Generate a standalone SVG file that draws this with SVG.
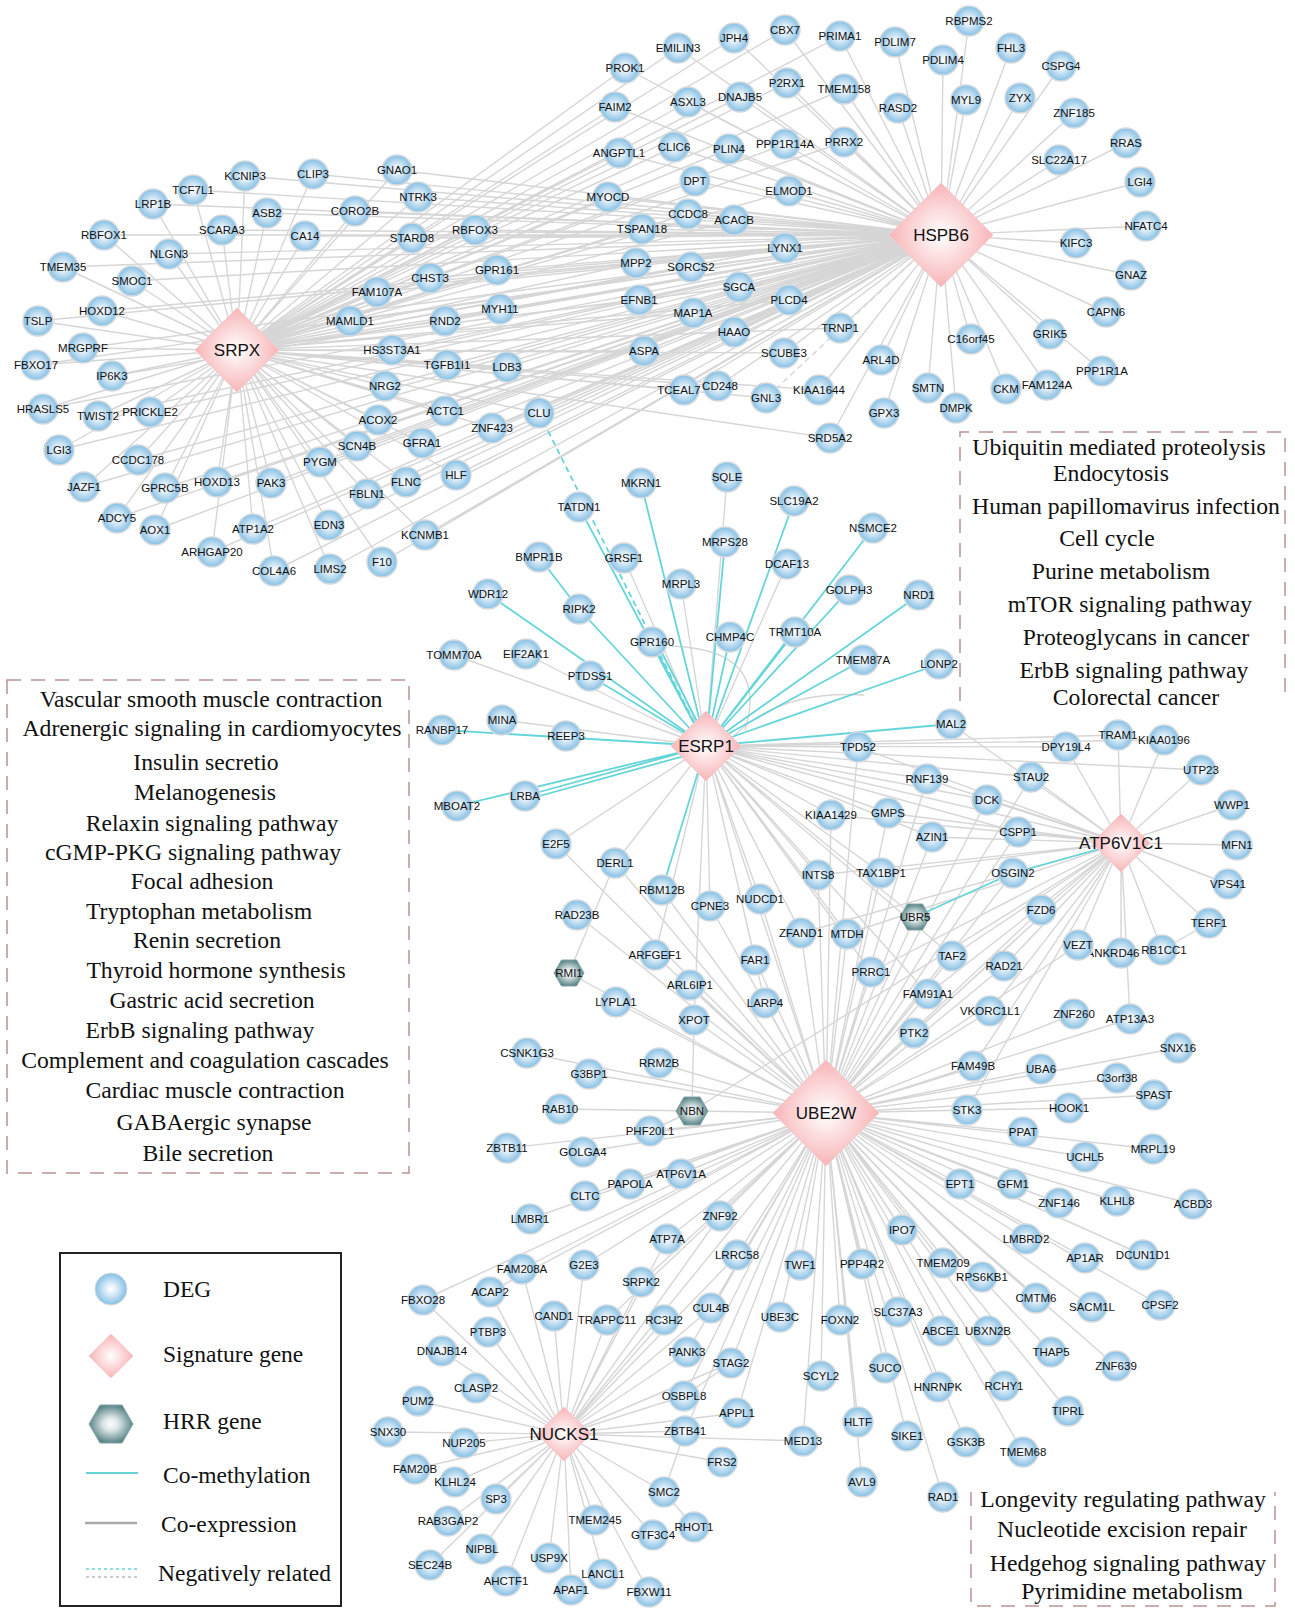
<svg xmlns="http://www.w3.org/2000/svg" width="1295" height="1609" viewBox="0 0 1295 1609">
<style>
.e{stroke:#d6d6d6;stroke-width:1.4;fill:none}
.m{stroke:#66d5da;stroke-width:1.8;fill:none}
.neg{stroke-dasharray:6 4}
.d circle{fill:url(#gd);stroke:#d3dadf;stroke-width:1.5}
.h path{fill:url(#gh);stroke:#f4c9cb;stroke-width:1}
.x path{fill:url(#gx);stroke:#86a2a4;stroke-width:1}
.d text,.x text{font:11.5px "Liberation Sans",Arial,sans-serif;text-anchor:middle;fill:#111}
.h text{font:17px "Liberation Sans",Arial,sans-serif;text-anchor:middle;fill:#111}
.pw{font:23.7px "Liberation Serif","Times New Roman",serif;text-anchor:middle;fill:#111}
.lg{font:23.5px "Liberation Serif","Times New Roman",serif;fill:#111}
.box{fill:none;stroke:#b99393;stroke-width:1.5;stroke-dasharray:14 10}
</style>
<defs>
<radialGradient id="gd"><stop offset="0" stop-color="#ffffff"/><stop offset="0.3" stop-color="#e2eff9"/><stop offset="1" stop-color="#84bfe4"/></radialGradient>
<radialGradient id="gh"><stop offset="0" stop-color="#ffffff"/><stop offset="1" stop-color="#f8b4b7"/></radialGradient>
<radialGradient id="gx"><stop offset="0" stop-color="#ffffff"/><stop offset="0.35" stop-color="#dbe5e5"/><stop offset="1" stop-color="#5a8588"/></radialGradient>
</defs>
<rect width="1295" height="1609" fill="#ffffff"/>
<g id="edges">
<path id="e-SRPX" class="e" d="M237 350L245 176M237 350L313 174M237 350L397 170M237 350L193 190M237 350L153 204M237 350L267 213M237 350L355 211M237 350L418 197M237 350L222 230M237 350L305 236M237 350L412 238M237 350L104 235M237 350L169 254M237 350L63 267M237 350L132 281M237 350L377 292M237 350L430 278M237 350L102 311M237 350L38 321M237 350L350 321M237 350L83 348M237 350L36 365M237 350L112 376M237 350L392 350M237 350L385 386M237 350L43 409M237 350L98 416M237 350L150 412M237 350L378 420M237 350L59 450M237 350L357 446M237 350L422 443M237 350L138 460M237 350L320 462M237 350L84 487M237 350L165 488M237 350L217 482M237 350L271 483M237 350L406 482M237 350L367 494M237 350L117 518M237 350L155 530M237 350L253 529M237 350L329 525M237 350L425 535M237 350L212 552M237 350L274 571M237 350L330 569M237 350L382 562M237 350L445 411M237 350L492 428M237 350L539 413M237 350L456 475M237 350L475 230M237 350L497 270M237 350L500 309M237 350L445 321M237 350L447 365M237 350L507 367M237 350L678 48M237 350L734 38M237 350L785 30M237 350L840 36M237 350L625 68M237 350L787 83M237 350L844 89M237 350L740 97M237 350L615 107M237 350L688 102M237 350L619 153M237 350L674 147M237 350L729 149M237 350L785 144M237 350L844 142M237 350L695 181M237 350L789 191M237 350L608 197M237 350L688 214M237 350L734 220M237 350L642 229M237 350L785 248M237 350L636 263M237 350L691 267M237 350L739 287M237 350L789 300M237 350L639 300M237 350L693 313M237 350L734 332M237 350L840 328M237 350L644 351M237 350L784 353M237 350L684 390M237 350L718 386M237 350L766 398M237 350L819 390M237 350L830 438"/>
<path id="e-HSPB6" class="e" d="M941 235L245 176M941 235L313 174M941 235L397 170M941 235L193 190M941 235L153 204M941 235L267 213M941 235L355 211M941 235L418 197M941 235L222 230M941 235L305 236M941 235L412 238M941 235L104 235M941 235L169 254M941 235L63 267M941 235L132 281M941 235L377 292M941 235L430 278M941 235L102 311M941 235L38 321M941 235L350 321M941 235L83 348M941 235L36 365M941 235L112 376M941 235L392 350M941 235L385 386M941 235L43 409M941 235L98 416M941 235L150 412M941 235L378 420M941 235L59 450M941 235L357 446M941 235L422 443M941 235L138 460M941 235L320 462M941 235L84 487M941 235L165 488M941 235L217 482M941 235L271 483M941 235L406 482M941 235L367 494M941 235L117 518M941 235L155 530M941 235L253 529M941 235L329 525M941 235L425 535M941 235L212 552M941 235L274 571M941 235L330 569M941 235L382 562M941 235L445 411M941 235L492 428M941 235L539 413M941 235L456 475M941 235L475 230M941 235L497 270M941 235L500 309M941 235L445 321M941 235L447 365M941 235L507 367M941 235L678 48M941 235L734 38M941 235L785 30M941 235L840 36M941 235L625 68M941 235L787 83M941 235L844 89M941 235L740 97M941 235L615 107M941 235L688 102M941 235L619 153M941 235L674 147M941 235L729 149M941 235L785 144M941 235L844 142M941 235L695 181M941 235L789 191M941 235L608 197M941 235L688 214M941 235L734 220M941 235L642 229M941 235L785 248M941 235L636 263M941 235L691 267M941 235L739 287M941 235L789 300M941 235L639 300M941 235L693 313M941 235L734 332M941 235L840 328M941 235L644 351M941 235L784 353M941 235L684 390M941 235L718 386M941 235L819 390M941 235L830 438M941 235L969 21M941 235L895 42M941 235L943 60M941 235L1011 48M941 235L1061 66M941 235L966 100M941 235L1020 98M941 235L898 108M941 235L1074 113M941 235L1126 143M941 235L1059 160M941 235L1140 182M941 235L1146 226M941 235L1076 243M941 235L1131 275M941 235L1106 312M941 235L1050 334M941 235L971 339M941 235L1102 371M941 235L881 360M941 235L928 388M941 235L1006 389M941 235L1047 385M941 235L956 408M941 235L884 413"/>
<path id="e-ESRP1" class="e" d="M706 746L727 477M706 746L624 558M706 746L681 584M706 746L787 564M706 746L454 655M706 746L526 654M706 746L502 720M706 746L556 844M706 746L615 863M706 746L831 815M706 746L888 813M706 746L858 747M706 746L927 779M706 746L987 800M706 746L1031 777M706 746L932 837M706 746L1018 832M706 746L881 873M706 746L818 875M706 746L710 906M706 746L760 899M706 746L801 933M706 746L847 934M706 746L755 960M706 746L765 1003M706 746L655 955M706 746L1121 843M706 746L826 1113M706 746L952 956M706 746L928 994M706 746L871 972M706 746L915 917M706 746L1066 747M706 746L1118 735M706 746L1164 740M706 746L1201 770M706 746L694 1020M672 646Q770 650 745 730M735 735Q780 690 864 695"/>
<path id="e-ATP6V1C1" class="e" d="M1121 843L1118 735M1121 843L1164 740M1121 843L1201 770M1121 843L1232 805M1121 843L1237 845M1121 843L1228 884M1121 843L1209 923M1121 843L1162 950M1121 843L1121 953M1121 843L1130 1019M1121 843L1078 945M1121 843L1041 910M1121 843L1018 832M1121 843L987 800M1121 843L1031 777M1121 843L1066 747M1121 843L951 724M1121 843L858 747M1121 843L927 779M1121 843L932 837M1121 843L888 813M1121 843L881 873M1121 843L952 956M1121 843L1004 966M1121 843L928 994M1121 843L914 1033M1121 843L990 1011M1121 843L973 1066M1121 843L967 1110M1121 843L871 972M1121 843L826 1113M1121 843L831 815M1121 843L818 875M1121 843L847 934M1121 843L801 933M1121 843L692 1111"/>
<path id="e-UBE2W" class="e" d="M826 1113L831 815M826 1113L888 813M826 1113L932 837M826 1113L1018 832M826 1113L927 779M826 1113L987 800M826 1113L1031 777M826 1113L881 873M826 1113L915 917M826 1113L952 956M826 1113L1004 966M826 1113L871 972M826 1113L928 994M826 1113L990 1011M826 1113L1074 1014M826 1113L1130 1019M826 1113L914 1033M826 1113L1178 1048M826 1113L973 1066M826 1113L1041 1069M826 1113L1117 1078M826 1113L1154 1095M826 1113L967 1110M826 1113L1069 1108M826 1113L1023 1132M826 1113L1085 1157M826 1113L1153 1149M826 1113L960 1184M826 1113L1013 1184M826 1113L1059 1203M826 1113L1117 1201M826 1113L1193 1204M826 1113L556 844M826 1113L615 863M826 1113L818 875M826 1113L662 890M826 1113L710 906M826 1113L760 899M826 1113L577 915M826 1113L801 933M826 1113L847 934M826 1113L655 955M826 1113L755 960M826 1113L569 973M826 1113L690 985M826 1113L616 1002M826 1113L765 1003M826 1113L694 1020M826 1113L527 1053M826 1113L659 1063M826 1113L589 1074M826 1113L560 1109M826 1113L692 1111M826 1113L650 1131M826 1113L507 1148M826 1113L583 1152M826 1113L681 1174M826 1113L630 1184M826 1113L585 1196M826 1113L530 1219M826 1113L720 1216M826 1113L667 1239M826 1113L522 1269M826 1113L584 1265M826 1113L737 1255M826 1113L800 1265M826 1113L862 1264M826 1113L902 1230M826 1113L943 1263M826 1113L1026 1239M826 1113L1085 1258M826 1113L1143 1255M826 1113L982 1277M826 1113L1036 1298M826 1113L1092 1307M826 1113L1160 1305M826 1113L898 1312M826 1113L941 1331M826 1113L988 1331M826 1113L1051 1352M826 1113L1116 1366M826 1113L885 1368M826 1113L938 1387M826 1113L1004 1386M826 1113L1068 1411M826 1113L907 1436M826 1113L966 1442M826 1113L1023 1452M826 1113L943 1497M826 1113L858 1422M826 1113L862 1482M826 1113L641 1282M826 1113L490 1292M826 1113L423 1300M826 1113L607 1320M826 1113L711 1308M826 1113L780 1317M826 1113L840 1320M826 1113L731 1363M826 1113L821 1376M826 1113L684 1396M826 1113L737 1413M826 1113L803 1441M826 1113L685 1431M826 1113L687 1352M826 1113L1041 910M826 1113L1078 945M826 1113L1013 873M826 1113L858 747"/>
<path id="e-NUCKS1" class="e" d="M564 1434L423 1300M564 1434L442 1351M564 1434L418 1401M564 1434L388 1432M564 1434L415 1469M564 1434L455 1482M564 1434L448 1521M564 1434L430 1565M564 1434L482 1549M564 1434L506 1581M564 1434L549 1558M564 1434L571 1590M564 1434L603 1574M564 1434L649 1592M564 1434L595 1520M564 1434L653 1535M564 1434L664 1492M564 1434L722 1462M564 1434L803 1441M564 1434L685 1431M564 1434L737 1413M564 1434L684 1396M564 1434L731 1363M564 1434L687 1352M564 1434L711 1308M564 1434L664 1320M564 1434L607 1320M564 1434L641 1282M564 1434L667 1239M564 1434L554 1316M564 1434L584 1265M564 1434L522 1269M564 1434L490 1292M564 1434L488 1332M564 1434L476 1388M564 1434L464 1443M564 1434L496 1499M564 1434L737 1255M564 1434L720 1216M564 1434L826 1113"/>
<path id="e-other" class="e" d="M694 1527L664 1492M664 1492L685 1431M694 1020L692 1111M569 973L615 863M1209 923L1162 950M731 1363L684 1396M692 1111L650 1131"/>
<path id="m-ESRP1" class="m" d="M706 746L641 483M706 746L579 507M706 746L579 609M706 746L488 594M706 746L652 642M709 745L656 641M706 746L725 542M706 746L794 501M706 746L730 637M706 746L873 528M706 746L849 590M706 746L795 632M706 746L863 660M706 746L919 595M706 746L939 664M706 746L951 724M706 746L442 730M706 746L525 796M706 750L525 800M706 746L457 806M706 746L662 890M706 746L590 676M539 557L579 609"/>
<path id="m-ATP6V1C1" class="m" d="M915 917L1013 873M1013 873L1121 843"/>
<path id="n-CLU-ESRP1" class="m neg" d="M539 413L706 746"/>
<path id="n-HSPB6-GNL3" class="e neg" d="M941 235L766 398"/>
</g>
<g id="nodes">
<g id="KCNIP3" class="d" transform="translate(245,176)"><circle r="15"/><text y="4">KCNIP3</text></g>
<g id="CLIP3" class="d" transform="translate(313,174)"><circle r="15"/><text y="4">CLIP3</text></g>
<g id="GNAO1" class="d" transform="translate(397,170)"><circle r="15"/><text y="4">GNAO1</text></g>
<g id="TCF7L1" class="d" transform="translate(193,190)"><circle r="15"/><text y="4">TCF7L1</text></g>
<g id="LRP1B" class="d" transform="translate(153,204)"><circle r="15"/><text y="4">LRP1B</text></g>
<g id="ASB2" class="d" transform="translate(267,213)"><circle r="15"/><text y="4">ASB2</text></g>
<g id="CORO2B" class="d" transform="translate(355,211)"><circle r="15"/><text y="4">CORO2B</text></g>
<g id="NTRK3" class="d" transform="translate(418,197)"><circle r="15"/><text y="4">NTRK3</text></g>
<g id="SCARA3" class="d" transform="translate(222,230)"><circle r="15"/><text y="4">SCARA3</text></g>
<g id="CA14" class="d" transform="translate(305,236)"><circle r="15"/><text y="4">CA14</text></g>
<g id="STARD8" class="d" transform="translate(412,238)"><circle r="15"/><text y="4">STARD8</text></g>
<g id="RBFOX1" class="d" transform="translate(104,235)"><circle r="15"/><text y="4">RBFOX1</text></g>
<g id="NLGN3" class="d" transform="translate(169,254)"><circle r="15"/><text y="4">NLGN3</text></g>
<g id="TMEM35" class="d" transform="translate(63,267)"><circle r="15"/><text y="4">TMEM35</text></g>
<g id="SMOC1" class="d" transform="translate(132,281)"><circle r="15"/><text y="4">SMOC1</text></g>
<g id="FAM107A" class="d" transform="translate(377,292)"><circle r="15"/><text y="4">FAM107A</text></g>
<g id="CHST3" class="d" transform="translate(430,278)"><circle r="15"/><text y="4">CHST3</text></g>
<g id="HOXD12" class="d" transform="translate(102,311)"><circle r="15"/><text y="4">HOXD12</text></g>
<g id="TSLP" class="d" transform="translate(38,321)"><circle r="15"/><text y="4">TSLP</text></g>
<g id="MAMLD1" class="d" transform="translate(350,321)"><circle r="15"/><text y="4">MAMLD1</text></g>
<g id="MRGPRF" class="d" transform="translate(83,348)"><circle r="15"/><text y="4">MRGPRF</text></g>
<g id="FBXO17" class="d" transform="translate(36,365)"><circle r="15"/><text y="4">FBXO17</text></g>
<g id="IP6K3" class="d" transform="translate(112,376)"><circle r="15"/><text y="4">IP6K3</text></g>
<g id="HS3ST3A1" class="d" transform="translate(392,350)"><circle r="15"/><text y="4">HS3ST3A1</text></g>
<g id="NRG2" class="d" transform="translate(385,386)"><circle r="15"/><text y="4">NRG2</text></g>
<g id="HRASLS5" class="d" transform="translate(43,409)"><circle r="15"/><text y="4">HRASLS5</text></g>
<g id="TWIST2" class="d" transform="translate(98,416)"><circle r="15"/><text y="4">TWIST2</text></g>
<g id="PRICKLE2" class="d" transform="translate(150,412)"><circle r="15"/><text y="4">PRICKLE2</text></g>
<g id="ACOX2" class="d" transform="translate(378,420)"><circle r="15"/><text y="4">ACOX2</text></g>
<g id="LGI3" class="d" transform="translate(59,450)"><circle r="15"/><text y="4">LGI3</text></g>
<g id="SCN4B" class="d" transform="translate(357,446)"><circle r="15"/><text y="4">SCN4B</text></g>
<g id="GFRA1" class="d" transform="translate(422,443)"><circle r="15"/><text y="4">GFRA1</text></g>
<g id="CCDC178" class="d" transform="translate(138,460)"><circle r="15"/><text y="4">CCDC178</text></g>
<g id="PYGM" class="d" transform="translate(320,462)"><circle r="15"/><text y="4">PYGM</text></g>
<g id="JAZF1" class="d" transform="translate(84,487)"><circle r="15"/><text y="4">JAZF1</text></g>
<g id="GPRC5B" class="d" transform="translate(165,488)"><circle r="15"/><text y="4">GPRC5B</text></g>
<g id="HOXD13" class="d" transform="translate(217,482)"><circle r="15"/><text y="4">HOXD13</text></g>
<g id="PAK3" class="d" transform="translate(271,483)"><circle r="15"/><text y="4">PAK3</text></g>
<g id="FLNC" class="d" transform="translate(406,482)"><circle r="15"/><text y="4">FLNC</text></g>
<g id="FBLN1" class="d" transform="translate(367,494)"><circle r="15"/><text y="4">FBLN1</text></g>
<g id="ADCY5" class="d" transform="translate(117,518)"><circle r="15"/><text y="4">ADCY5</text></g>
<g id="AOX1" class="d" transform="translate(155,530)"><circle r="15"/><text y="4">AOX1</text></g>
<g id="ATP1A2" class="d" transform="translate(253,529)"><circle r="15"/><text y="4">ATP1A2</text></g>
<g id="EDN3" class="d" transform="translate(329,525)"><circle r="15"/><text y="4">EDN3</text></g>
<g id="KCNMB1" class="d" transform="translate(425,535)"><circle r="15"/><text y="4">KCNMB1</text></g>
<g id="ARHGAP20" class="d" transform="translate(212,552)"><circle r="15"/><text y="4">ARHGAP20</text></g>
<g id="COL4A6" class="d" transform="translate(274,571)"><circle r="15"/><text y="4">COL4A6</text></g>
<g id="LIMS2" class="d" transform="translate(330,569)"><circle r="15"/><text y="4">LIMS2</text></g>
<g id="F10" class="d" transform="translate(382,562)"><circle r="15"/><text y="4">F10</text></g>
<g id="ACTC1" class="d" transform="translate(445,411)"><circle r="15"/><text y="4">ACTC1</text></g>
<g id="ZNF423" class="d" transform="translate(492,428)"><circle r="15"/><text y="4">ZNF423</text></g>
<g id="CLU" class="d" transform="translate(539,413)"><circle r="15"/><text y="4">CLU</text></g>
<g id="HLF" class="d" transform="translate(456,475)"><circle r="15"/><text y="4">HLF</text></g>
<g id="RBFOX3" class="d" transform="translate(475,230)"><circle r="15"/><text y="4">RBFOX3</text></g>
<g id="GPR161" class="d" transform="translate(497,270)"><circle r="15"/><text y="4">GPR161</text></g>
<g id="MYH11" class="d" transform="translate(500,309)"><circle r="15"/><text y="4">MYH11</text></g>
<g id="RND2" class="d" transform="translate(445,321)"><circle r="15"/><text y="4">RND2</text></g>
<g id="TGFB1I1" class="d" transform="translate(447,365)"><circle r="15"/><text y="4">TGFB1I1</text></g>
<g id="LDB3" class="d" transform="translate(507,367)"><circle r="15"/><text y="4">LDB3</text></g>
<g id="EMILIN3" class="d" transform="translate(678,48)"><circle r="15"/><text y="4">EMILIN3</text></g>
<g id="JPH4" class="d" transform="translate(734,38)"><circle r="15"/><text y="4">JPH4</text></g>
<g id="CBX7" class="d" transform="translate(785,30)"><circle r="15"/><text y="4">CBX7</text></g>
<g id="PRIMA1" class="d" transform="translate(840,36)"><circle r="15"/><text y="4">PRIMA1</text></g>
<g id="PROK1" class="d" transform="translate(625,68)"><circle r="15"/><text y="4">PROK1</text></g>
<g id="P2RX1" class="d" transform="translate(787,83)"><circle r="15"/><text y="4">P2RX1</text></g>
<g id="TMEM158" class="d" transform="translate(844,89)"><circle r="15"/><text y="4">TMEM158</text></g>
<g id="DNAJB5" class="d" transform="translate(740,97)"><circle r="15"/><text y="4">DNAJB5</text></g>
<g id="FAIM2" class="d" transform="translate(615,107)"><circle r="15"/><text y="4">FAIM2</text></g>
<g id="ASXL3" class="d" transform="translate(688,102)"><circle r="15"/><text y="4">ASXL3</text></g>
<g id="ANGPTL1" class="d" transform="translate(619,153)"><circle r="15"/><text y="4">ANGPTL1</text></g>
<g id="CLIC6" class="d" transform="translate(674,147)"><circle r="15"/><text y="4">CLIC6</text></g>
<g id="PLIN4" class="d" transform="translate(729,149)"><circle r="15"/><text y="4">PLIN4</text></g>
<g id="PPP1R14A" class="d" transform="translate(785,144)"><circle r="15"/><text y="4">PPP1R14A</text></g>
<g id="PRRX2" class="d" transform="translate(844,142)"><circle r="15"/><text y="4">PRRX2</text></g>
<g id="DPT" class="d" transform="translate(695,181)"><circle r="15"/><text y="4">DPT</text></g>
<g id="ELMOD1" class="d" transform="translate(789,191)"><circle r="15"/><text y="4">ELMOD1</text></g>
<g id="MYOCD" class="d" transform="translate(608,197)"><circle r="15"/><text y="4">MYOCD</text></g>
<g id="CCDC8" class="d" transform="translate(688,214)"><circle r="15"/><text y="4">CCDC8</text></g>
<g id="ACACB" class="d" transform="translate(734,220)"><circle r="15"/><text y="4">ACACB</text></g>
<g id="TSPAN18" class="d" transform="translate(642,229)"><circle r="15"/><text y="4">TSPAN18</text></g>
<g id="LYNX1" class="d" transform="translate(785,248)"><circle r="15"/><text y="4">LYNX1</text></g>
<g id="MPP2" class="d" transform="translate(636,263)"><circle r="15"/><text y="4">MPP2</text></g>
<g id="SORCS2" class="d" transform="translate(691,267)"><circle r="15"/><text y="4">SORCS2</text></g>
<g id="SGCA" class="d" transform="translate(739,287)"><circle r="15"/><text y="4">SGCA</text></g>
<g id="PLCD4" class="d" transform="translate(789,300)"><circle r="15"/><text y="4">PLCD4</text></g>
<g id="EFNB1" class="d" transform="translate(639,300)"><circle r="15"/><text y="4">EFNB1</text></g>
<g id="MAP1A" class="d" transform="translate(693,313)"><circle r="15"/><text y="4">MAP1A</text></g>
<g id="HAAO" class="d" transform="translate(734,332)"><circle r="15"/><text y="4">HAAO</text></g>
<g id="TRNP1" class="d" transform="translate(840,328)"><circle r="15"/><text y="4">TRNP1</text></g>
<g id="ASPA" class="d" transform="translate(644,351)"><circle r="15"/><text y="4">ASPA</text></g>
<g id="SCUBE3" class="d" transform="translate(784,353)"><circle r="15"/><text y="4">SCUBE3</text></g>
<g id="TCEAL7" class="d" transform="translate(684,390)"><circle r="15"/><text x="-5" y="4">TCEAL7</text></g>
<g id="CD248" class="d" transform="translate(718,386)"><circle r="15"/><text x="2" y="4">CD248</text></g>
<g id="GNL3" class="d" transform="translate(766,398)"><circle r="15"/><text y="4">GNL3</text></g>
<g id="KIAA1644" class="d" transform="translate(819,390)"><circle r="15"/><text y="4">KIAA1644</text></g>
<g id="SRD5A2" class="d" transform="translate(830,438)"><circle r="15"/><text y="4">SRD5A2</text></g>
<g id="RBPMS2" class="d" transform="translate(969,21)"><circle r="15"/><text y="4">RBPMS2</text></g>
<g id="PDLIM7" class="d" transform="translate(895,42)"><circle r="15"/><text y="4">PDLIM7</text></g>
<g id="PDLIM4" class="d" transform="translate(943,60)"><circle r="15"/><text y="4">PDLIM4</text></g>
<g id="FHL3" class="d" transform="translate(1011,48)"><circle r="15"/><text y="4">FHL3</text></g>
<g id="CSPG4" class="d" transform="translate(1061,66)"><circle r="15"/><text y="4">CSPG4</text></g>
<g id="MYL9" class="d" transform="translate(966,100)"><circle r="15"/><text y="4">MYL9</text></g>
<g id="ZYX" class="d" transform="translate(1020,98)"><circle r="15"/><text y="4">ZYX</text></g>
<g id="RASD2" class="d" transform="translate(898,108)"><circle r="15"/><text y="4">RASD2</text></g>
<g id="ZNF185" class="d" transform="translate(1074,113)"><circle r="15"/><text y="4">ZNF185</text></g>
<g id="RRAS" class="d" transform="translate(1126,143)"><circle r="15"/><text y="4">RRAS</text></g>
<g id="SLC22A17" class="d" transform="translate(1059,160)"><circle r="15"/><text y="4">SLC22A17</text></g>
<g id="LGI4" class="d" transform="translate(1140,182)"><circle r="15"/><text y="4">LGI4</text></g>
<g id="NFATC4" class="d" transform="translate(1146,226)"><circle r="15"/><text y="4">NFATC4</text></g>
<g id="KIFC3" class="d" transform="translate(1076,243)"><circle r="15"/><text y="4">KIFC3</text></g>
<g id="GNAZ" class="d" transform="translate(1131,275)"><circle r="15"/><text y="4">GNAZ</text></g>
<g id="CAPN6" class="d" transform="translate(1106,312)"><circle r="15"/><text y="4">CAPN6</text></g>
<g id="GRIK5" class="d" transform="translate(1050,334)"><circle r="15"/><text y="4">GRIK5</text></g>
<g id="C16orf45" class="d" transform="translate(971,339)"><circle r="15"/><text y="4">C16orf45</text></g>
<g id="PPP1R1A" class="d" transform="translate(1102,371)"><circle r="15"/><text y="4">PPP1R1A</text></g>
<g id="ARL4D" class="d" transform="translate(881,360)"><circle r="15"/><text y="4">ARL4D</text></g>
<g id="SMTN" class="d" transform="translate(928,388)"><circle r="15"/><text y="4">SMTN</text></g>
<g id="CKM" class="d" transform="translate(1006,389)"><circle r="15"/><text y="4">CKM</text></g>
<g id="FAM124A" class="d" transform="translate(1047,385)"><circle r="15"/><text y="4">FAM124A</text></g>
<g id="DMPK" class="d" transform="translate(956,408)"><circle r="15"/><text y="4">DMPK</text></g>
<g id="GPX3" class="d" transform="translate(884,413)"><circle r="15"/><text y="4">GPX3</text></g>
<g id="SQLE" class="d" transform="translate(727,477)"><circle r="15"/><text y="4">SQLE</text></g>
<g id="MKRN1" class="d" transform="translate(641,483)"><circle r="15"/><text y="4">MKRN1</text></g>
<g id="SLC19A2" class="d" transform="translate(794,501)"><circle r="15"/><text y="4">SLC19A2</text></g>
<g id="TATDN1" class="d" transform="translate(579,507)"><circle r="15"/><text y="4">TATDN1</text></g>
<g id="NSMCE2" class="d" transform="translate(873,528)"><circle r="15"/><text y="4">NSMCE2</text></g>
<g id="MRPS28" class="d" transform="translate(725,542)"><circle r="15"/><text y="4">MRPS28</text></g>
<g id="BMPR1B" class="d" transform="translate(539,557)"><circle r="15"/><text y="4">BMPR1B</text></g>
<g id="GRSF1" class="d" transform="translate(624,558)"><circle r="15"/><text y="4">GRSF1</text></g>
<g id="DCAF13" class="d" transform="translate(787,564)"><circle r="15"/><text y="4">DCAF13</text></g>
<g id="MRPL3" class="d" transform="translate(681,584)"><circle r="15"/><text y="4">MRPL3</text></g>
<g id="WDR12" class="d" transform="translate(488,594)"><circle r="15"/><text y="4">WDR12</text></g>
<g id="GOLPH3" class="d" transform="translate(849,590)"><circle r="15"/><text y="4">GOLPH3</text></g>
<g id="NRD1" class="d" transform="translate(919,595)"><circle r="15"/><text y="4">NRD1</text></g>
<g id="RIPK2" class="d" transform="translate(579,609)"><circle r="15"/><text y="4">RIPK2</text></g>
<g id="TRMT10A" class="d" transform="translate(795,632)"><circle r="15"/><text y="4">TRMT10A</text></g>
<g id="CHMP4C" class="d" transform="translate(730,637)"><circle r="15"/><text y="4">CHMP4C</text></g>
<g id="GPR160" class="d" transform="translate(652,642)"><circle r="15"/><text y="4">GPR160</text></g>
<g id="TOMM70A" class="d" transform="translate(454,655)"><circle r="15"/><text y="4">TOMM70A</text></g>
<g id="EIF2AK1" class="d" transform="translate(526,654)"><circle r="15"/><text y="4">EIF2AK1</text></g>
<g id="TMEM87A" class="d" transform="translate(863,660)"><circle r="15"/><text y="4">TMEM87A</text></g>
<g id="LONP2" class="d" transform="translate(939,664)"><circle r="15"/><text y="4">LONP2</text></g>
<g id="PTDSS1" class="d" transform="translate(590,676)"><circle r="15"/><text y="4">PTDSS1</text></g>
<g id="MINA" class="d" transform="translate(502,720)"><circle r="15"/><text y="4">MINA</text></g>
<g id="MAL2" class="d" transform="translate(951,724)"><circle r="15"/><text y="4">MAL2</text></g>
<g id="RANBP17" class="d" transform="translate(442,730)"><circle r="15"/><text y="4">RANBP17</text></g>
<g id="REEP3" class="d" transform="translate(566,736)"><circle r="15"/><text y="4">REEP3</text></g>
<g id="TPD52" class="d" transform="translate(858,747)"><circle r="15"/><text y="4">TPD52</text></g>
<g id="LRBA" class="d" transform="translate(525,796)"><circle r="15"/><text y="4">LRBA</text></g>
<g id="MBOAT2" class="d" transform="translate(457,806)"><circle r="15"/><text y="4">MBOAT2</text></g>
<g id="KIAA1429" class="d" transform="translate(831,815)"><circle r="15"/><text y="4">KIAA1429</text></g>
<g id="GMPS" class="d" transform="translate(888,813)"><circle r="15"/><text y="4">GMPS</text></g>
<g id="AZIN1" class="d" transform="translate(932,837)"><circle r="15"/><text y="4">AZIN1</text></g>
<g id="CSPP1" class="d" transform="translate(1018,832)"><circle r="15"/><text y="4">CSPP1</text></g>
<g id="DCK" class="d" transform="translate(987,800)"><circle r="15"/><text y="4">DCK</text></g>
<g id="RNF139" class="d" transform="translate(927,779)"><circle r="15"/><text y="4">RNF139</text></g>
<g id="STAU2" class="d" transform="translate(1031,777)"><circle r="15"/><text y="4">STAU2</text></g>
<g id="DPY19L4" class="d" transform="translate(1066,747)"><circle r="15"/><text y="4">DPY19L4</text></g>
<g id="TRAM1" class="d" transform="translate(1118,735)"><circle r="15"/><text y="4">TRAM1</text></g>
<g id="KIAA0196" class="d" transform="translate(1164,740)"><circle r="15"/><text y="4">KIAA0196</text></g>
<g id="UTP23" class="d" transform="translate(1201,770)"><circle r="15"/><text y="4">UTP23</text></g>
<g id="WWP1" class="d" transform="translate(1232,805)"><circle r="15"/><text y="4">WWP1</text></g>
<g id="MFN1" class="d" transform="translate(1237,845)"><circle r="15"/><text y="4">MFN1</text></g>
<g id="VPS41" class="d" transform="translate(1228,884)"><circle r="15"/><text y="4">VPS41</text></g>
<g id="TERF1" class="d" transform="translate(1209,923)"><circle r="15"/><text y="4">TERF1</text></g>
<g id="ANKRD46" class="d" transform="translate(1121,953)"><circle r="15"/><text x="-8" y="4">ANKRD46</text></g>
<g id="RB1CC1" class="d" transform="translate(1162,950)"><circle r="15"/><text x="2" y="4">RB1CC1</text></g>
<g id="VEZT" class="d" transform="translate(1078,945)"><circle r="15"/><text y="4">VEZT</text></g>
<g id="FZD6" class="d" transform="translate(1041,910)"><circle r="15"/><text y="4">FZD6</text></g>
<g id="OSGIN2" class="d" transform="translate(1013,873)"><circle r="15"/><text y="4">OSGIN2</text></g>
<g id="TAX1BP1" class="d" transform="translate(881,873)"><circle r="15"/><text y="4">TAX1BP1</text></g>
<g id="TAF2" class="d" transform="translate(952,956)"><circle r="15"/><text y="4">TAF2</text></g>
<g id="RAD21" class="d" transform="translate(1004,966)"><circle r="15"/><text y="4">RAD21</text></g>
<g id="PRRC1" class="d" transform="translate(871,972)"><circle r="15"/><text y="4">PRRC1</text></g>
<g id="FAM91A1" class="d" transform="translate(928,994)"><circle r="15"/><text y="4">FAM91A1</text></g>
<g id="VKORC1L1" class="d" transform="translate(990,1011)"><circle r="15"/><text y="4">VKORC1L1</text></g>
<g id="ZNF260" class="d" transform="translate(1074,1014)"><circle r="15"/><text y="4">ZNF260</text></g>
<g id="ATP13A3" class="d" transform="translate(1130,1019)"><circle r="15"/><text y="4">ATP13A3</text></g>
<g id="PTK2" class="d" transform="translate(914,1033)"><circle r="15"/><text y="4">PTK2</text></g>
<g id="SNX16" class="d" transform="translate(1178,1048)"><circle r="15"/><text y="4">SNX16</text></g>
<g id="FAM49B" class="d" transform="translate(973,1066)"><circle r="15"/><text y="4">FAM49B</text></g>
<g id="UBA6" class="d" transform="translate(1041,1069)"><circle r="15"/><text y="4">UBA6</text></g>
<g id="C3orf38" class="d" transform="translate(1117,1078)"><circle r="15"/><text y="4">C3orf38</text></g>
<g id="SPAST" class="d" transform="translate(1154,1095)"><circle r="15"/><text y="4">SPAST</text></g>
<g id="STK3" class="d" transform="translate(967,1110)"><circle r="15"/><text y="4">STK3</text></g>
<g id="HOOK1" class="d" transform="translate(1069,1108)"><circle r="15"/><text y="4">HOOK1</text></g>
<g id="PPAT" class="d" transform="translate(1023,1132)"><circle r="15"/><text y="4">PPAT</text></g>
<g id="UCHL5" class="d" transform="translate(1085,1157)"><circle r="15"/><text y="4">UCHL5</text></g>
<g id="MRPL19" class="d" transform="translate(1153,1149)"><circle r="15"/><text y="4">MRPL19</text></g>
<g id="EPT1" class="d" transform="translate(960,1184)"><circle r="15"/><text y="4">EPT1</text></g>
<g id="GFM1" class="d" transform="translate(1013,1184)"><circle r="15"/><text y="4">GFM1</text></g>
<g id="ZNF146" class="d" transform="translate(1059,1203)"><circle r="15"/><text y="4">ZNF146</text></g>
<g id="KLHL8" class="d" transform="translate(1117,1201)"><circle r="15"/><text y="4">KLHL8</text></g>
<g id="ACBD3" class="d" transform="translate(1193,1204)"><circle r="15"/><text y="4">ACBD3</text></g>
<g id="E2F5" class="d" transform="translate(556,844)"><circle r="15"/><text y="4">E2F5</text></g>
<g id="DERL1" class="d" transform="translate(615,863)"><circle r="15"/><text y="4">DERL1</text></g>
<g id="INTS8" class="d" transform="translate(818,875)"><circle r="15"/><text y="4">INTS8</text></g>
<g id="RBM12B" class="d" transform="translate(662,890)"><circle r="15"/><text y="4">RBM12B</text></g>
<g id="CPNE3" class="d" transform="translate(710,906)"><circle r="15"/><text y="4">CPNE3</text></g>
<g id="NUDCD1" class="d" transform="translate(760,899)"><circle r="15"/><text y="4">NUDCD1</text></g>
<g id="RAD23B" class="d" transform="translate(577,915)"><circle r="15"/><text y="4">RAD23B</text></g>
<g id="ZFAND1" class="d" transform="translate(801,933)"><circle r="15"/><text y="4">ZFAND1</text></g>
<g id="MTDH" class="d" transform="translate(847,934)"><circle r="15"/><text y="4">MTDH</text></g>
<g id="ARFGEF1" class="d" transform="translate(655,955)"><circle r="15"/><text y="4">ARFGEF1</text></g>
<g id="FAR1" class="d" transform="translate(755,960)"><circle r="15"/><text y="4">FAR1</text></g>
<g id="ARL6IP1" class="d" transform="translate(690,985)"><circle r="15"/><text y="4">ARL6IP1</text></g>
<g id="LYPLA1" class="d" transform="translate(616,1002)"><circle r="15"/><text y="4">LYPLA1</text></g>
<g id="LARP4" class="d" transform="translate(765,1003)"><circle r="15"/><text y="4">LARP4</text></g>
<g id="XPOT" class="d" transform="translate(694,1020)"><circle r="15"/><text y="4">XPOT</text></g>
<g id="CSNK1G3" class="d" transform="translate(527,1053)"><circle r="15"/><text y="4">CSNK1G3</text></g>
<g id="RRM2B" class="d" transform="translate(659,1063)"><circle r="15"/><text y="4">RRM2B</text></g>
<g id="G3BP1" class="d" transform="translate(589,1074)"><circle r="15"/><text y="4">G3BP1</text></g>
<g id="RAB10" class="d" transform="translate(560,1109)"><circle r="15"/><text y="4">RAB10</text></g>
<g id="PHF20L1" class="d" transform="translate(650,1131)"><circle r="15"/><text y="4">PHF20L1</text></g>
<g id="ZBTB11" class="d" transform="translate(507,1148)"><circle r="15"/><text y="4">ZBTB11</text></g>
<g id="GOLGA4" class="d" transform="translate(583,1152)"><circle r="15"/><text y="4">GOLGA4</text></g>
<g id="ATP6V1A" class="d" transform="translate(681,1174)"><circle r="15"/><text y="4">ATP6V1A</text></g>
<g id="PAPOLA" class="d" transform="translate(630,1184)"><circle r="15"/><text y="4">PAPOLA</text></g>
<g id="CLTC" class="d" transform="translate(585,1196)"><circle r="15"/><text y="4">CLTC</text></g>
<g id="LMBR1" class="d" transform="translate(530,1219)"><circle r="15"/><text y="4">LMBR1</text></g>
<g id="ZNF92" class="d" transform="translate(720,1216)"><circle r="15"/><text y="4">ZNF92</text></g>
<g id="ATP7A" class="d" transform="translate(667,1239)"><circle r="15"/><text y="4">ATP7A</text></g>
<g id="FAM208A" class="d" transform="translate(522,1269)"><circle r="15"/><text y="4">FAM208A</text></g>
<g id="G2E3" class="d" transform="translate(584,1265)"><circle r="15"/><text y="4">G2E3</text></g>
<g id="LRRC58" class="d" transform="translate(737,1255)"><circle r="15"/><text y="4">LRRC58</text></g>
<g id="TWF1" class="d" transform="translate(800,1265)"><circle r="15"/><text y="4">TWF1</text></g>
<g id="PPP4R2" class="d" transform="translate(862,1264)"><circle r="15"/><text y="4">PPP4R2</text></g>
<g id="IPO7" class="d" transform="translate(902,1230)"><circle r="15"/><text y="4">IPO7</text></g>
<g id="TMEM209" class="d" transform="translate(943,1263)"><circle r="15"/><text y="4">TMEM209</text></g>
<g id="LMBRD2" class="d" transform="translate(1026,1239)"><circle r="15"/><text y="4">LMBRD2</text></g>
<g id="AP1AR" class="d" transform="translate(1085,1258)"><circle r="15"/><text y="4">AP1AR</text></g>
<g id="DCUN1D1" class="d" transform="translate(1143,1255)"><circle r="15"/><text y="4">DCUN1D1</text></g>
<g id="RPS6KB1" class="d" transform="translate(982,1277)"><circle r="15"/><text y="4">RPS6KB1</text></g>
<g id="CMTM6" class="d" transform="translate(1036,1298)"><circle r="15"/><text y="4">CMTM6</text></g>
<g id="SACM1L" class="d" transform="translate(1092,1307)"><circle r="15"/><text y="4">SACM1L</text></g>
<g id="CPSF2" class="d" transform="translate(1160,1305)"><circle r="15"/><text y="4">CPSF2</text></g>
<g id="SLC37A3" class="d" transform="translate(898,1312)"><circle r="15"/><text y="4">SLC37A3</text></g>
<g id="ABCE1" class="d" transform="translate(941,1331)"><circle r="15"/><text y="4">ABCE1</text></g>
<g id="UBXN2B" class="d" transform="translate(988,1331)"><circle r="15"/><text y="4">UBXN2B</text></g>
<g id="THAP5" class="d" transform="translate(1051,1352)"><circle r="15"/><text y="4">THAP5</text></g>
<g id="ZNF639" class="d" transform="translate(1116,1366)"><circle r="15"/><text y="4">ZNF639</text></g>
<g id="SUCO" class="d" transform="translate(885,1368)"><circle r="15"/><text y="4">SUCO</text></g>
<g id="HNRNPK" class="d" transform="translate(938,1387)"><circle r="15"/><text y="4">HNRNPK</text></g>
<g id="RCHY1" class="d" transform="translate(1004,1386)"><circle r="15"/><text y="4">RCHY1</text></g>
<g id="TIPRL" class="d" transform="translate(1068,1411)"><circle r="15"/><text y="4">TIPRL</text></g>
<g id="SIKE1" class="d" transform="translate(907,1436)"><circle r="15"/><text y="4">SIKE1</text></g>
<g id="GSK3B" class="d" transform="translate(966,1442)"><circle r="15"/><text y="4">GSK3B</text></g>
<g id="TMEM68" class="d" transform="translate(1023,1452)"><circle r="15"/><text y="4">TMEM68</text></g>
<g id="RAD1" class="d" transform="translate(943,1497)"><circle r="15"/><text y="4">RAD1</text></g>
<g id="HLTF" class="d" transform="translate(858,1422)"><circle r="15"/><text y="4">HLTF</text></g>
<g id="AVL9" class="d" transform="translate(862,1482)"><circle r="15"/><text y="4">AVL9</text></g>
<g id="SRPK2" class="d" transform="translate(641,1282)"><circle r="15"/><text y="4">SRPK2</text></g>
<g id="ACAP2" class="d" transform="translate(490,1292)"><circle r="15"/><text y="4">ACAP2</text></g>
<g id="FBXO28" class="d" transform="translate(423,1300)"><circle r="15"/><text y="4">FBXO28</text></g>
<g id="CAND1" class="d" transform="translate(554,1316)"><circle r="15"/><text y="4">CAND1</text></g>
<g id="TRAPPC11" class="d" transform="translate(607,1320)"><circle r="15"/><text y="4">TRAPPC11</text></g>
<g id="RC3H2" class="d" transform="translate(664,1320)"><circle r="15"/><text y="4">RC3H2</text></g>
<g id="CUL4B" class="d" transform="translate(711,1308)"><circle r="15"/><text y="4">CUL4B</text></g>
<g id="UBE3C" class="d" transform="translate(780,1317)"><circle r="15"/><text y="4">UBE3C</text></g>
<g id="FOXN2" class="d" transform="translate(840,1320)"><circle r="15"/><text y="4">FOXN2</text></g>
<g id="PTBP3" class="d" transform="translate(488,1332)"><circle r="15"/><text y="4">PTBP3</text></g>
<g id="DNAJB14" class="d" transform="translate(442,1351)"><circle r="15"/><text y="4">DNAJB14</text></g>
<g id="PANK3" class="d" transform="translate(687,1352)"><circle r="15"/><text y="4">PANK3</text></g>
<g id="STAG2" class="d" transform="translate(731,1363)"><circle r="15"/><text y="4">STAG2</text></g>
<g id="SCYL2" class="d" transform="translate(821,1376)"><circle r="15"/><text y="4">SCYL2</text></g>
<g id="CLASP2" class="d" transform="translate(476,1388)"><circle r="15"/><text y="4">CLASP2</text></g>
<g id="OSBPL8" class="d" transform="translate(684,1396)"><circle r="15"/><text y="4">OSBPL8</text></g>
<g id="APPL1" class="d" transform="translate(737,1413)"><circle r="15"/><text y="4">APPL1</text></g>
<g id="ZBTB41" class="d" transform="translate(685,1431)"><circle r="15"/><text y="4">ZBTB41</text></g>
<g id="MED13" class="d" transform="translate(803,1441)"><circle r="15"/><text y="4">MED13</text></g>
<g id="NUP205" class="d" transform="translate(464,1443)"><circle r="15"/><text y="4">NUP205</text></g>
<g id="FRS2" class="d" transform="translate(722,1462)"><circle r="15"/><text y="4">FRS2</text></g>
<g id="KLHL24" class="d" transform="translate(455,1482)"><circle r="15"/><text y="4">KLHL24</text></g>
<g id="SMC2" class="d" transform="translate(664,1492)"><circle r="15"/><text y="4">SMC2</text></g>
<g id="SP3" class="d" transform="translate(496,1499)"><circle r="15"/><text y="4">SP3</text></g>
<g id="PUM2" class="d" transform="translate(418,1401)"><circle r="15"/><text y="4">PUM2</text></g>
<g id="SNX30" class="d" transform="translate(388,1432)"><circle r="15"/><text y="4">SNX30</text></g>
<g id="FAM20B" class="d" transform="translate(415,1469)"><circle r="15"/><text y="4">FAM20B</text></g>
<g id="RAB3GAP2" class="d" transform="translate(448,1521)"><circle r="15"/><text y="4">RAB3GAP2</text></g>
<g id="TMEM245" class="d" transform="translate(595,1520)"><circle r="15"/><text y="4">TMEM245</text></g>
<g id="RHOT1" class="d" transform="translate(694,1527)"><circle r="15"/><text y="4">RHOT1</text></g>
<g id="GTF3C4" class="d" transform="translate(653,1535)"><circle r="15"/><text y="4">GTF3C4</text></g>
<g id="NIPBL" class="d" transform="translate(482,1549)"><circle r="15"/><text y="4">NIPBL</text></g>
<g id="USP9X" class="d" transform="translate(549,1558)"><circle r="15"/><text y="4">USP9X</text></g>
<g id="SEC24B" class="d" transform="translate(430,1565)"><circle r="15"/><text y="4">SEC24B</text></g>
<g id="AHCTF1" class="d" transform="translate(506,1581)"><circle r="15"/><text y="4">AHCTF1</text></g>
<g id="LANCL1" class="d" transform="translate(603,1574)"><circle r="15"/><text y="4">LANCL1</text></g>
<g id="APAF1" class="d" transform="translate(571,1590)"><circle r="15"/><text y="4">APAF1</text></g>
<g id="FBXW11" class="d" transform="translate(649,1592)"><circle r="15"/><text y="4">FBXW11</text></g>
<g id="RMI1" class="x" transform="translate(569,973)"><path d="M-15 0L-7.5 -13H7.5L15 0L7.5 13H-7.5Z"/><text y="4">RMI1</text></g>
<g id="NBN" class="x" transform="translate(692,1111)"><path d="M-16 0L-8 -14H8L16 0L8 14H-8Z"/><text y="4">NBN</text></g>
<g id="UBR5" class="x" transform="translate(915,917)"><path d="M-15 0L-7.5 -13H7.5L15 0L7.5 13H-7.5Z"/><text y="4">UBR5</text></g>
<g id="SRPX" class="h" transform="translate(237,350)"><path d="M0 -42L42 0L0 42L-42 0Z"/><text y="6">SRPX</text></g>
<g id="HSPB6" class="h" transform="translate(941,235)"><path d="M0 -52L52 0L0 52L-52 0Z"/><text y="6">HSPB6</text></g>
<g id="ESRP1" class="h" transform="translate(706,746)"><path d="M0 -35L35 0L0 35L-35 0Z"/><text y="6">ESRP1</text></g>
<g id="ATP6V1C1" class="h" transform="translate(1121,843)"><path d="M0 -29L29 0L0 29L-29 0Z"/><text y="6">ATP6V1C1</text></g>
<g id="UBE2W" class="h" transform="translate(826,1113)"><path d="M0 -53L53 0L0 53L-53 0Z"/><text y="6">UBE2W</text></g>
<g id="NUCKS1" class="h" transform="translate(564,1434)"><path d="M0 -27L27 0L0 27L-27 0Z"/><text y="6">NUCKS1</text></g>
</g>
<g id="pathways-left">
<rect class="box" x="7" y="680" width="402" height="493"/>
<text class="pw" x="211" y="707">Vascular smooth muscle contraction</text>
<text class="pw" x="212" y="736">Adrenergic signaling in cardiomyocytes</text>
<text class="pw" x="206" y="770">Insulin secretio</text>
<text class="pw" x="205" y="800">Melanogenesis</text>
<text class="pw" x="212" y="831">Relaxin signaling pathway</text>
<text class="pw" x="193" y="860">cGMP-PKG signaling pathway</text>
<text class="pw" x="202" y="889">Focal adhesion</text>
<text class="pw" x="199" y="919">Tryptophan metabolism</text>
<text class="pw" x="207" y="948">Renin secretion</text>
<text class="pw" x="216" y="978">Thyroid hormone synthesis</text>
<text class="pw" x="212" y="1008">Gastric acid secretion</text>
<text class="pw" x="200" y="1038">ErbB signaling pathway</text>
<text class="pw" x="205" y="1068">Complement and coagulation cascades</text>
<text class="pw" x="215" y="1098">Cardiac muscle contraction</text>
<text class="pw" x="214" y="1130">GABAergic synapse</text>
<text class="pw" x="208" y="1161">Bile secretion</text>
</g>
<g id="pathways-upper-right">
<path class="box" d="M960 701V432H1285V701"/>
<text class="pw" x="1119" y="455">Ubiquitin mediated proteolysis</text>
<text class="pw" x="1111" y="481">Endocytosis</text>
<text class="pw" x="1126" y="514">Human papillomavirus infection</text>
<text class="pw" x="1107" y="546">Cell cycle</text>
<text class="pw" x="1121" y="579">Purine metabolism</text>
<text class="pw" x="1130" y="612">mTOR signaling pathway</text>
<text class="pw" x="1136" y="645">Proteoglycans in cancer</text>
<text class="pw" x="1134" y="678">ErbB signaling pathway</text>
<text class="pw" x="1136" y="705">Colorectal cancer</text>
</g>
<g id="pathways-lower-right">
<path class="box" d="M971 1492V1606H1275V1492"/>
<text class="pw" x="1123" y="1507">Longevity regulating pathway</text>
<text class="pw" x="1122" y="1537">Nucleotide excision repair</text>
<text class="pw" x="1128" y="1571">Hedgehog signaling pathway</text>
<text class="pw" x="1132" y="1599">Pyrimidine metabolism</text>
</g>
<g id="legend">
<rect x="60" y="1253" width="281" height="353" fill="none" stroke="#222" stroke-width="2"/>
<circle cx="111" cy="1289" r="16" fill="url(#gd)" stroke="#d3dadf" stroke-width="1"/>
<text class="lg" x="163" y="1297">DEG</text>
<path d="M111 1334L133 1356L111 1378L89 1356Z" fill="url(#gh)" stroke="#f4c9cb"/>
<text class="lg" x="163" y="1362">Signature gene</text>
<path d="M89 1424L100 1405H122L133 1424L122 1443H100Z" fill="url(#gx)" stroke="#86a2a4"/>
<text class="lg" x="163" y="1429">HRR gene</text>
<line x1="86" y1="1473" x2="138" y2="1473" stroke="#66d5da" stroke-width="2"/>
<text class="lg" x="163" y="1483">Co-methylation</text>
<line x1="85" y1="1523" x2="137" y2="1523" stroke="#aaaaaa" stroke-width="2.5"/>
<text class="lg" x="161" y="1532">Co-expression</text>
<line x1="86" y1="1569" x2="138" y2="1569" stroke="#66d5da" stroke-width="1.5" stroke-dasharray="3 3"/>
<line x1="86" y1="1577" x2="138" y2="1577" stroke="#bbbbbb" stroke-width="1.5" stroke-dasharray="3 3"/>
<text class="lg" x="158" y="1581">Negatively related</text>
</g>
</svg>
